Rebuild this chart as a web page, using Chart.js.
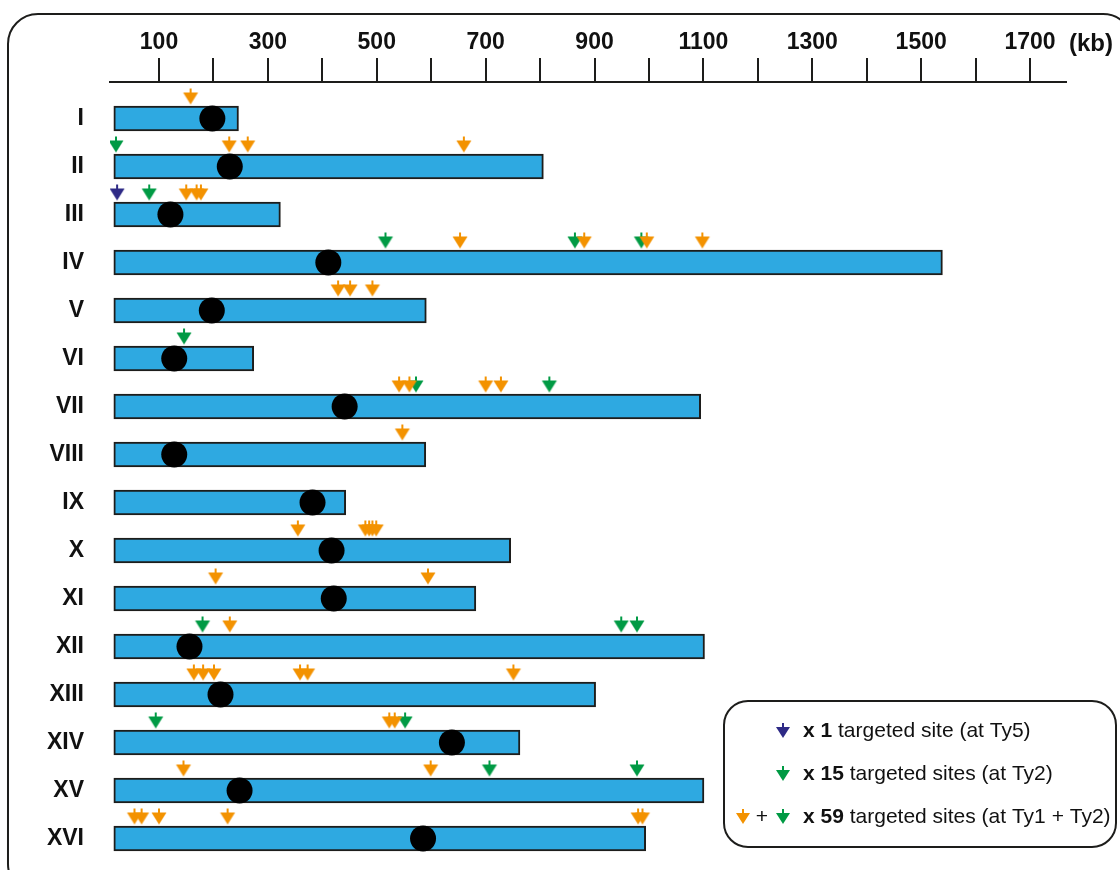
<!DOCTYPE html>
<html>
<head>
<meta charset="utf-8">
<script src="https://cdn.jsdelivr.net/npm/chart.js@4.4.1/dist/chart.umd.min.js"></script>
<style>
  html, body { margin: 0; padding: 0; background: #fff; }
  #wrap { width: 1120px; height: 870px; }
</style>
</head>
<body>
<div id="wrap"><canvas id="chromChart" width="1120" height="870"></canvas></div>
<script>
// chromosome map, positions in kb
const chromosomes = ["I", "II", "III", "IV", "V", "VI", "VII", "VIII", "IX", "X", "XI", "XII", "XIII", "XIV", "XV", "XVI"];
const chromStart = [17, 17, 17, 17, 17, 17, 17, 17, 17, 17, 17, 17, 17, 17, 17, 17];
const chromEnd = [246, 806, 323, 1539, 591, 274, 1095, 590, 443, 746, 682, 1102, 902, 763, 1101, 994];
const centromeres = [198, 230, 121, 411, 197, 128, 441, 128, 382, 417, 421, 156, 213, 638, 248, 585];

// [chromosome index, kb]
const ty5Sites = [[2, 23]];
const ty2Sites = [
  [1, 21], [2, 82], [3, 516], [3, 864], [3, 986], [5, 146], [6, 572], [6, 817],
  [11, 180], [11, 949], [11, 978], [13, 94], [13, 552], [14, 707], [14, 978]
];
const ty1Sites = [
  [0, 158],
  [1, 229], [1, 263], [1, 660],
  [2, 150], [2, 169], [2, 177],
  [3, 653], [3, 881], [3, 996], [3, 1098],
  [4, 429], [4, 451], [4, 492],
  [6, 541], [6, 560], [6, 700], [6, 728],
  [7, 547],
  [9, 355], [9, 479], [9, 486], [9, 492], [9, 499],
  [10, 204], [10, 594],
  [11, 230],
  [12, 164], [12, 181], [12, 201], [12, 359], [12, 373], [12, 751],
  [13, 523], [13, 533],
  [14, 145], [14, 599],
  [15, 55], [15, 68], [15, 100], [15, 226], [15, 980], [15, 988]
];

const tickValues = [100, 200, 300, 400, 500, 600, 700, 800, 900, 1000, 1100, 1200, 1300, 1400, 1500, 1600, 1700];
const labelledTicks = [100, 300, 500, 700, 900, 1100, 1300, 1500, 1700];

const legendRows = [
  { colors: ["#2e2a86"], bold: "x 1", text: " targeted site (at Ty5)" },
  { colors: ["#009a44"], bold: "x 15", text: " targeted sites (at Ty2)" },
  { colors: ["#f39200", "#009a44"], bold: "x 59", text: " targeted sites (at Ty1 + Ty2)" }
];

const FONT = "'Liberation Sans', Arial, sans-serif";
const ORANGE = "#f39200";
const GREEN = "#009a44";
const PURPLE = "#2e2a86";

// small arrow: short stem on top, solid triangle below, tip at tipY
function drawArrow(ctx, cx, tipY, color, w, h) {
  ctx.save();
  ctx.fillStyle = color;
  ctx.fillRect(cx - 1, tipY - h, 2, 6);
  ctx.beginPath();
  ctx.moveTo(cx - w / 2, tipY - h + 4);
  ctx.lineTo(cx + w / 2, tipY - h + 4);
  ctx.lineTo(cx, tipY);
  ctx.closePath();
  ctx.fill();
  ctx.restore();
}

// point image: arrow sits above the point so its tip touches the top of the bar
function arrowImage(color) {
  const c = document.createElement("canvas");
  c.width = 18;
  c.height = 64;
  const ctx = c.getContext("2d");
  drawArrow(ctx, 9, 32 - 14, color, 15, 16);
  return c;
}

const toPoints = (list) => list.map(([row, kb]) => ({ x: kb, y: row }));

const framePlugin = {
  id: "frame",
  beforeDraw(chart) {
    const ctx = chart.ctx;
    ctx.save();
    ctx.fillStyle = "#fff";
    ctx.fillRect(0, 0, chart.width, chart.height);
    ctx.strokeStyle = "#1d1d1b";
    ctx.lineWidth = 2;
    ctx.beginPath();
    ctx.roundRect(8, 14, 1125, 880, 30);
    ctx.stroke();
    ctx.restore();
  },
  afterDraw(chart) {
    const ctx = chart.ctx;
    ctx.save();
    ctx.fillStyle = "#111";
    ctx.font = "bold 24px " + FONT;
    ctx.textBaseline = "middle";
    ctx.fillText("(kb)", 1069, 44);

    // legend box
    ctx.strokeStyle = "#1d1d1b";
    ctx.lineWidth = 2;
    ctx.beginPath();
    ctx.roundRect(724, 701, 392, 146, 24);
    ctx.stroke();

    legendRows.forEach((row, i) => {
      const y = 731 + i * 43;
      if (row.colors.length === 1) {
        drawArrow(ctx, 783, y + 7, row.colors[0], 14, 15);
      } else {
        drawArrow(ctx, 743, y + 7, row.colors[0], 14, 15);
        ctx.fillStyle = "#111";
        ctx.font = "21px " + FONT;
        ctx.textAlign = "center";
        ctx.fillText("+", 762, y);
        drawArrow(ctx, 783, y + 7, row.colors[1], 14, 15);
      }
      ctx.textAlign = "left";
      ctx.fillStyle = "#111";
      ctx.font = "bold 21px " + FONT;
      ctx.fillText(row.bold, 803, y);
      const bw = ctx.measureText(row.bold).width;
      ctx.font = "21px " + FONT;
      ctx.fillText(row.text, 803 + bw, y);
    });
    ctx.restore();
  }
};

const ctx = document.getElementById("chromChart").getContext("2d");

const chart = new Chart(ctx, {
  type: "bar",
  data: {
    datasets: [
      {
        type: "scatter",
        label: "Ty1",
        data: toPoints(ty1Sites),
        pointStyle: arrowImage(ORANGE),
        order: 1
      },
      {
        type: "scatter",
        label: "Ty2",
        data: toPoints(ty2Sites),
        pointStyle: arrowImage(GREEN),
        order: 2
      },
      {
        type: "scatter",
        label: "Ty5",
        data: toPoints(ty5Sites),
        pointStyle: arrowImage(PURPLE),
        order: 3
      },
      {
        type: "scatter",
        label: "Centromere",
        data: centromeres.map((kb, i) => ({ x: kb, y: i })),
        pointStyle: "circle",
        pointRadius: 13,
        backgroundColor: "#000",
        borderWidth: 0,
        order: 4
      },
      {
        type: "bar",
        label: "Chromosome",
        data: chromEnd.map((end, i) => ({ x: [chromStart[i], end], y: i })),
        backgroundColor: "#2ea9e1",
        borderColor: "#1d1d1b",
        borderWidth: 2,
        borderSkipped: false,
        barThickness: 25,
        order: 5
      }
    ]
  },
  options: {
    indexAxis: "y",
    responsive: false,
    animation: false,
    layout: { autoPadding: false, padding: { left: 0, right: 54, top: 0, bottom: 7.5 } },
    plugins: {
      legend: { display: false },
      tooltip: { enabled: false }
    },
    scales: {
      x: {
        type: "linear",
        position: "top",
        min: 10,
        max: 1766,
        afterBuildTicks: (axis) => {
          axis.ticks = tickValues.map((v) => ({ value: v }));
        },
        afterFit: (axis) => {
          axis.height = 82;
          axis.paddingLeft = 0;
          axis.paddingRight = 0;
        },
        grid: {
          drawOnChartArea: false,
          drawTicks: true,
          tickLength: 24,
          color: "#1d1d1b",
          lineWidth: 2
        },
        border: { display: true, color: "#1d1d1b", width: 2 },
        ticks: {
          autoSkip: false,
          maxRotation: 0,
          padding: 2,
          color: "#111",
          font: { family: FONT, size: 23, weight: "bold" },
          callback: (v) => (labelledTicks.includes(v) ? String(v) : "")
        }
      },
      y: {
        type: "linear",
        reverse: true,
        offset: false,
        min: -0.76,
        max: 15.5,
        afterBuildTicks: (axis) => {
          axis.ticks = chromosomes.map((name, i) => ({ value: i }));
        },
        afterFit: (axis) => {
          axis.width = 110;
          axis.paddingTop = 0;
          axis.paddingBottom = 0;
        },
        grid: { display: false, drawTicks: false },
        border: { display: false },
        ticks: {
          autoSkip: false,
          padding: 26,
          color: "#111",
          font: { family: FONT, size: 23, weight: "bold" },
          callback: (v) => chromosomes[v] || ""
        }
      }
    }
  },
  plugins: [framePlugin]
});
</script>
</body>
</html>
